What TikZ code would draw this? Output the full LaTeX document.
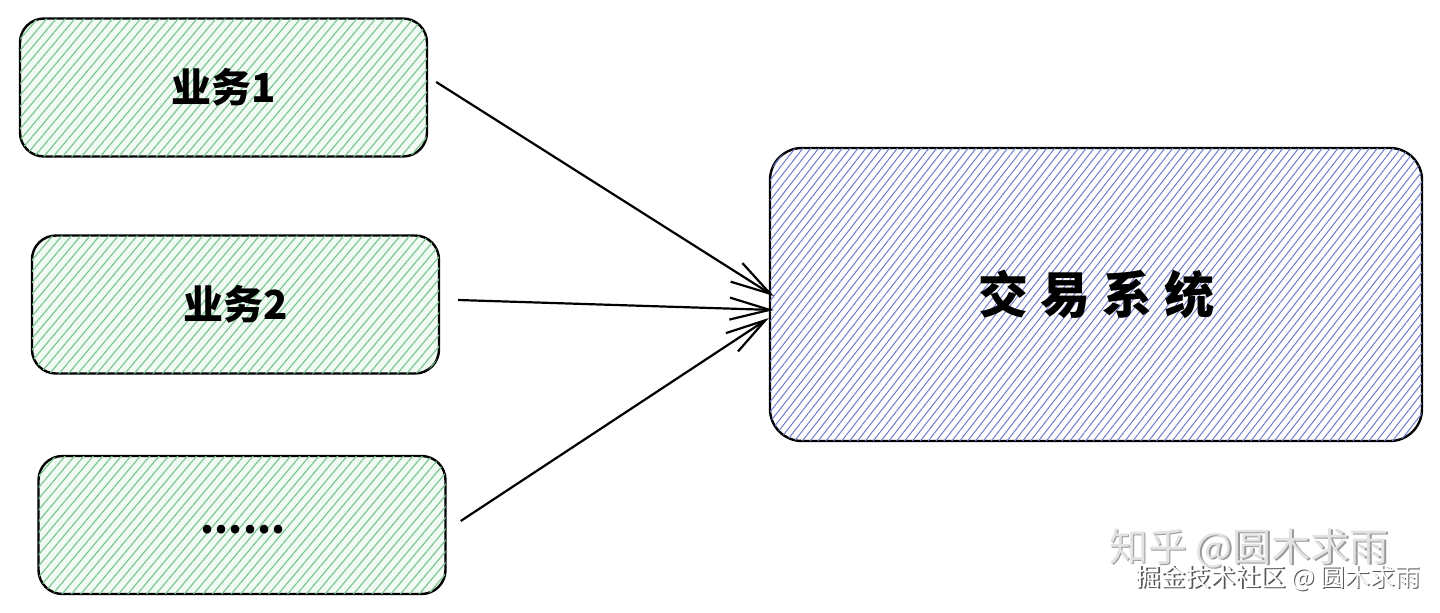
\documentclass[tikz,border=0pt]{standalone}
\usepackage{fontspec}
\newfontfamily\cjk{Noto Sans CJK SC}
\usetikzlibrary{patterns.meta,arrows.meta}
\definecolor{hgreen}{HTML}{7CC794}
\definecolor{hgreenbg}{HTML}{F2FAF4}
\definecolor{hblue}{HTML}{6E7CCB}
\definecolor{wmlight}{HTML}{E2E2E2}
\definecolor{wmshade}{HTML}{9A9A9A}
\definecolor{wmdark}{HTML}{555555}
\begin{document}
\begin{tikzpicture}[x=0.5pt,y=-0.5pt,
  biz/.style={draw=black, line width=1.2pt, rounded corners=12pt,
    minimum width=203.5pt, minimum height=69pt, inner sep=0pt,
    font=\cjk\bfseries\fontsize{20}{24}\selectfont},
  sysbox/.style={draw=black, line width=1.2pt, rounded corners=16pt,
    minimum width=326pt, minimum height=146.5pt, inner sep=0pt,
    font=\cjk\bfseries\fontsize{25}{30}\selectfont},
  ghatch/.style={fill=hgreenbg, postaction={pattern={Lines[angle=50,distance=3.6pt,line width=0.6pt]}, pattern color=hgreen}},
  bhatch/.style={fill=white, postaction={pattern={Lines[angle=52,distance=3.1pt,line width=0.5pt]}, pattern color=hblue}},
  arr/.style={line width=1.1pt, -{Straight Barb[length=20pt,width=11pt]}},
  plain/.style={inner sep=0pt}]
\useasboundingbox (0,0) rectangle (1440,612);
\fill[white] (0,0) rectangle (1440,612);

\node[biz, ghatch] (b1) at (223.5,87.5) {业务1};
\node[biz, ghatch] (b2) at (235.5,304.5) {业务2};
\node[biz, ghatch] (b3) at (242,525) {};
\node[plain, font=\cjk\bfseries\fontsize{20}{24}\selectfont] (t3) at (243,530) {......};
\node[sysbox, bhatch] (sys) at (1096,294.5) {交\hspace{6pt}易\hspace{6pt}系\hspace{6pt}统};

\draw[arr] ([shift={(8,-5.5)}]b1.east) -- ([shift={(5,1.5)}]sys.west);
\draw[arr] ([shift={(18,-4.5)}]b2.east) -- ([shift={(5,15.5)}]sys.west);
\draw[arr] ([shift={(14,-4)}]b3.east) -- ([shift={(0,23.5)}]sys.west);

\node[plain, font=\cjk\fontsize{19.5}{22}\selectfont, text=wmshade] (wm1s) at (1250.5,549.5) {知乎 @圆木求雨};
\node[plain, font=\cjk\fontsize{19.5}{22}\selectfont, text=wmlight] (wm1) at (1249,548) {知乎 @圆木求雨};
\node[plain, font=\cjk\fontsize{12.5}{14}\selectfont, text=wmdark] (wm2s) at (1279.5,579.5) {掘金技术社区 @ 圆木求雨};
\node[plain, font=\cjk\fontsize{12.5}{14}\selectfont, text=white] (wm2) at (1278,578) {掘金技术社区 @ 圆木求雨};
\end{tikzpicture}
\end{document}
